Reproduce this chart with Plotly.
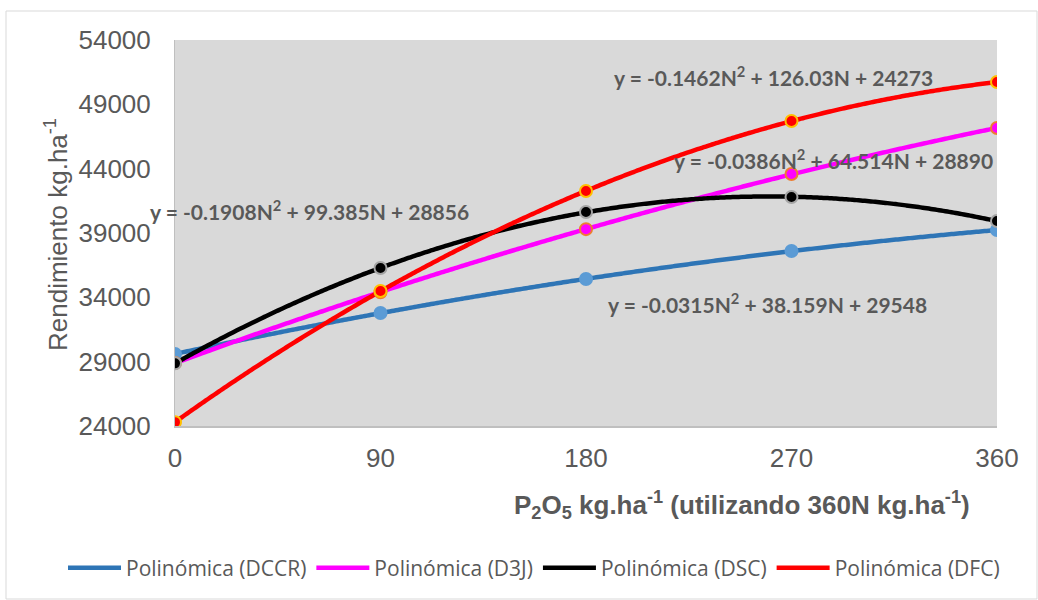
import numpy as np
import plotly.graph_objects as go

# Data
dose = [0, 90, 180, 270, 360]
dccr = [29600, 32780, 35420, 37600, 39230]
d3j = [28900, 34400, 39300, 43580, 47160]
dsc = [28870, 36280, 40630, 41800, 39930]
dfc = [24300, 34490, 42260, 47700, 50730]

series_names = ["DCCR", "D3J", "DSC", "DFC"]
series_values = [dccr, d3j, dsc, dfc]
line_colors = ["#2e75b6", "#ff00ff", "#000000", "#ff0000"]
marker_fill = ["#5b9bd5", "#ff00ff", "#000000", "#ff0000"]
marker_edge = ["#5b9bd5", "#ed7d31", "#a5a5a5", "#ffc000"]

equations = [
    "y = -0.0315N<sup>2</sup> + 38.159N + 29548",
    "y = -0.0386N<sup>2</sup> + 64.514N + 28890",
    "y = -0.1908N<sup>2</sup> + 99.385N + 28856",
    "y = -0.1462N<sup>2</sup> + 126.03N + 24273",
]
eq_pos = [(259.7, 33560), (288.2, 44751), (58.7, 40788), (262.3, 51202)]

y_ticks = [24000, 29000, 34000, 39000, 44000, 49000, 54000]
x_ticks = [0, 90, 180, 270, 360]

GRAY = "#595959"
fig = go.Figure()

xs = np.linspace(0, 360, 200)
for name, vals, lc in zip(series_names, series_values, line_colors):
    coef = np.polyfit(dose, vals, 2)
    fig.add_trace(go.Scatter(
        x=xs, y=np.polyval(coef, xs), mode="lines",
        line=dict(color=lc, width=4.5, shape="spline"),
        name=f"Polinómica ({name})", showlegend=True,
    ))

for name, vals, mf, me in zip(series_names, series_values, marker_fill, marker_edge):
    fig.add_trace(go.Scatter(
        x=dose, y=vals, mode="markers",
        marker=dict(color=mf, size=12, line=dict(color=me, width=2)),
        name=name, showlegend=False,
    ))

annotations = []
for txt, (ax, ay) in zip(equations, eq_pos):
    annotations.append(dict(
        x=ax, y=ay, xref="x", yref="y", text=txt, showarrow=False,
        font=dict(family="Lato", size=21, color=GRAY, weight="bold"),
        xanchor="center", yanchor="middle",
    ))

annotations.append(dict(
    x=(742 - 175) / 822, y=(426 - 505) / 386, xref="paper", yref="paper",
    text="P<sub>2</sub>O<sub>5</sub> kg.ha<sup>-1</sup> (utilizando 360N kg.ha<sup>-1</sup>)",
    showarrow=False, xanchor="center", yanchor="middle",
    font=dict(family="Liberation Sans", size=26, color=GRAY, weight="bold"),
))
annotations.append(dict(
    x=(56 - 175) / 822, y=(426 - 235) / 386, xref="paper", yref="paper",
    text="Rendimiento kg.ha<sup>-1</sup>", textangle=-90,
    showarrow=False, xanchor="center", yanchor="middle",
    font=dict(family="Liberation Sans", size=26, color=GRAY),
))

fig.update_layout(
    width=1038, height=600,
    margin=dict(l=175, r=41, t=40, b=174),
    paper_bgcolor="white", plot_bgcolor="#d9d9d9",
    annotations=annotations,
    legend=dict(
        orientation="h", x=(63 - 175) / 822, y=(426 - 568) / 386,
        xanchor="left", yanchor="middle",
        font=dict(family="Open Sans", size=21, color=GRAY),
        itemwidth=53, tracegroupgap=0,
    ),
    shapes=[dict(
        type="rect", xref="paper", yref="paper",
        x0=(6 - 175) / 822, x1=(1037 - 175) / 822,
        y0=(426 - 599) / 386, y1=(426 - 11) / 386,
        line=dict(color="#d9d9d9", width=1), fillcolor="rgba(0,0,0,0)", layer="below",
    )],
)

fig.update_xaxes(
    range=[0, 360], tickvals=x_ticks, ticktext=[str(v) for v in x_ticks],
    showgrid=False, zeroline=False, showline=True, linecolor="#bfbfbf", linewidth=2,
    ticks="", ticklabelstandoff=8,
    tickfont=dict(family="Liberation Sans", size=26, color=GRAY),
)
fig.update_yaxes(
    range=[24000, 54000], tickvals=y_ticks, ticktext=[str(v) for v in y_ticks],
    showgrid=False, zeroline=False, showline=True, linecolor="#bfbfbf", linewidth=1,
    ticks="", ticklabelstandoff=18,
    tickfont=dict(family="Liberation Sans", size=26, color=GRAY),
)

fig.write_html("out.html", config={"displayModeBar": False},
               post_script="document.body.style.margin='0';")
